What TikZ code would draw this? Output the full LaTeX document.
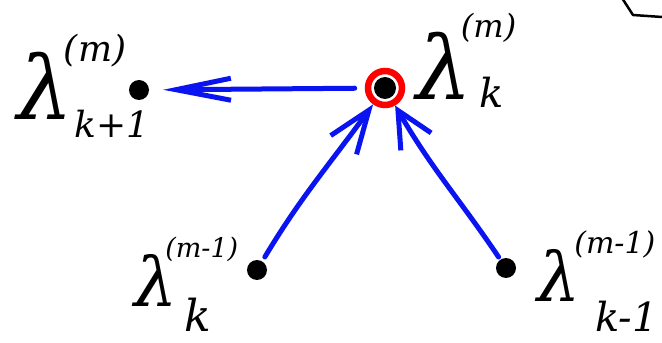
\documentclass[tikz,border=0pt]{standalone}
\usepackage{fontspec}
\newfontfamily\lamfont{DejaVu Serif}
\usetikzlibrary{arrows.meta}
\definecolor{pen}{RGB}{10,20,240}
\newcommand\lamlab[8]{\mbox{λ\rlap{\hspace*{#2}\raisebox{#3}{\fontsize{#1}{#1}\selectfont #4}}\hspace*{#6}\raisebox{#7}[0pt][0pt]{\fontsize{#5}{#5}\selectfont #8}}}
\tikzset{
  dot/.style={circle, fill=black, inner sep=0pt, minimum size=20pt},
  ring/.style={circle, draw=red, line width=6.5pt, inner sep=0pt, minimum size=34pt},
  lab/.style={inner sep=0pt, anchor=base west},
  bigl/.style={lab, font=\lamfont\itshape\fontsize{88}{88}\selectfont},
  smalll/.style={lab, font=\lamfont\itshape\fontsize{68}{68}\selectfont},
  arr/.style={draw=pen, line width=5pt, line cap=round, line join=round},
}
\begin{document}
\begin{tikzpicture}[x=1pt,y=1pt]
\useasboundingbox (0,0) rectangle (662,343);
% dots
\node[dot] (l1) at (139,253) {};
\node[dot, minimum size=22pt] (k) at (385,255) {};
\node[ring] (kr) at (k) {};
\node[dot] (bl) at (257,73) {};
\node[dot] (br) at (506,75) {};
% labels
\node[bigl] (t1) at (17,223) {\lamlab{36}{-9pt}{58pt}{(m)}{36}{2pt}{-18pt}{k+1}};
\node[bigl] (t2) at (416,243) {\lamlab{32}{-11pt}{62pt}{(m)}{40}{8pt}{-8pt}{k}};
\node[smalll] (t3) at (134,36) {\lamlab{27}{-12pt}{49pt}{(m-1)}{44}{7pt}{-25pt}{k}};
\node[smalll] (t4) at (537,41) {\lamlab{30}{-6pt}{48pt}{(m-1)}{40}{15pt}{-30pt}{k-1}};
% arrows
\draw[arr, -{Straight Barb[length=55pt,width=22pt]}, shorten <=10pt, shorten >=14pt] (kr) -- (l1);
\draw[arr, -{Straight Barb[length=43pt,width=32pt]}, shorten <=5pt] (bl) to[out=59,in=234] (kr);
\draw[arr, -{Straight Barb[length=36pt,width=35pt]}, shorten <=3pt] (br) to[out=124,in=-60] (kr);
% fragment at top right
\draw[line width=2.5pt, line join=round] (622,345) -- (633,328) -- (662,326);
\end{tikzpicture}
\end{document}
